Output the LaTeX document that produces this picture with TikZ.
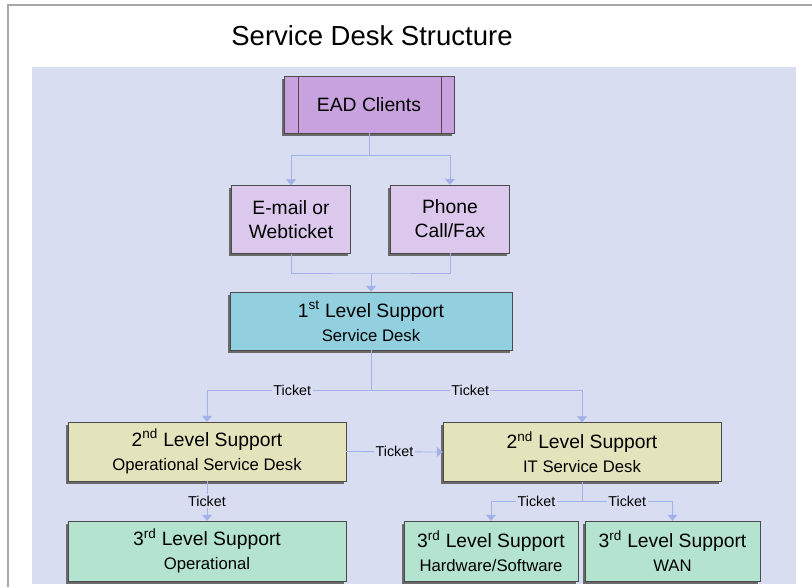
\documentclass[tikz,border=0pt]{standalone}
\usepackage{fontspec}
\setmainfont{Liberation Sans}
\usetikzlibrary{arrows.meta,shadows}
\definecolor{deskbg}{HTML}{D9DDF2}
\definecolor{framegray}{HTML}{A8A8A8}
\definecolor{boxline}{HTML}{4A4A4A}
\definecolor{shadowgray}{HTML}{6A6A6A}
\definecolor{linkblue}{HTML}{A2B2E8}
\definecolor{clientfill}{HTML}{C8A2DE}
\definecolor{channelfill}{HTML}{DCC8EC}
\definecolor{firstfill}{HTML}{92D0E0}
\definecolor{secondfill}{HTML}{E4E4BC}
\definecolor{thirdfill}{HTML}{B4E4D0}
\newcommand{\subline}{\fontsize{16.7}{21}\selectfont}
\begin{document}
\begin{tikzpicture}[x=1pt,y=-1pt]
\tikzset{base/.style={draw=boxline,thin,align=center,inner sep=0pt,
  font=\fontsize{19.3}{24}\selectfont,
  general shadow={fill=shadowgray,shadow xshift=-2.5pt,shadow yshift=-2.5pt}},
client/.style={base,fill=clientfill,minimum width=170pt,minimum height=57pt},
channel/.style={base,fill=channelfill,minimum width=119pt,minimum height=68pt},
first/.style={base,fill=firstfill,minimum width=282pt,minimum height=58pt},
second/.style={base,fill=secondfill,minimum width=278pt,minimum height=59pt},
third/.style={base,fill=thirdfill,minimum height=60pt},
link/.style={draw=linkblue,thick,>={Triangle[length=6pt,width=10pt]}},
ticket/.style={fill=deskbg,inner sep=1.5pt,font=\fontsize{14.3}{16}\selectfont}}
\useasboundingbox (0,0) rectangle (812,587);
\fill[white] (0,0) rectangle (812,587);
\draw[framegray,line width=2pt] (8,587) -- (8,5) -- (812,5);
\node[font=\fontsize{27.5}{32}\selectfont] (TITLE) at (372,36) {Service Desk Structure};
\fill[deskbg] (32,67) rectangle (796,584);
% clients and channels
\node[client] (EAD) at (369,104.5) {EAD Clients};
\draw[boxline] ([xshift=14pt]EAD.north west) -- ([xshift=14pt]EAD.south west);
\draw[boxline] ([xshift=-13pt]EAD.north east) -- ([xshift=-13pt]EAD.south east);
\node[channel] (MAIL) at (291,219.5) {E-mail or\\Webticket};
\node[channel] (PHONE) at (450,219) {Phone\\Call/Fax};
\path[link,->] (EAD.south) -- ++(0,22) -| (MAIL.north);
\path[link,->] (EAD.south) -- ++(0,22) -| (PHONE.north);
% first level
\node[first] (L1) at (371,321) {1\textsuperscript{st} Level Support\\\subline Service Desk};
\coordinate (JOIN) at (371,273);
\path[link] (MAIL.south) |- (JOIN) -| (PHONE.south);
\path[link,->] (JOIN) -- (L1.north);
% second level
\node[second] (L2OP) at (207,451.5) {2\textsuperscript{nd} Level Support\\\subline Operational Service Desk};
\node[second] (L2IT) at (582,452) {2\textsuperscript{nd} Level Support\\\subline IT Service Desk};
\coordinate (SPLIT1) at (371,390);
\path[link] (L1.south) -- (SPLIT1);
\path[link,->] (SPLIT1) -| node[ticket,pos=0.24]{Ticket} (L2OP.north);
\path[link,->] (SPLIT1) -| node[ticket,pos=0.235]{Ticket} (L2IT.north);
\path[link,->] (L2OP.east) -- node[ticket]{Ticket} (L2IT.west);
% third level
\node[third,minimum width=278pt] (L3OP) at (207,551) {3\textsuperscript{rd} Level Support\\\subline Operational};
\node[third,minimum width=174pt] (L3HW) at (491,551) {3\textsuperscript{rd} Level Support\\\subline Hardware/Software};
\node[third,minimum width=175pt] (L3WAN) at (672.5,551) {3\textsuperscript{rd} Level Support\\\subline WAN};
\path[link,->] (L2OP.south) -- node[ticket]{Ticket} (L3OP.north);
\coordinate (SPLIT2) at (582,501);
\path[link] (L2IT.south) -- (SPLIT2);
\path[link,->] (SPLIT2) -| node[ticket,pos=0.25]{Ticket} (L3HW.north);
\path[link,->] (SPLIT2) -| node[ticket,pos=0.25]{Ticket} (L3WAN.north);
\end{tikzpicture}
\end{document}
